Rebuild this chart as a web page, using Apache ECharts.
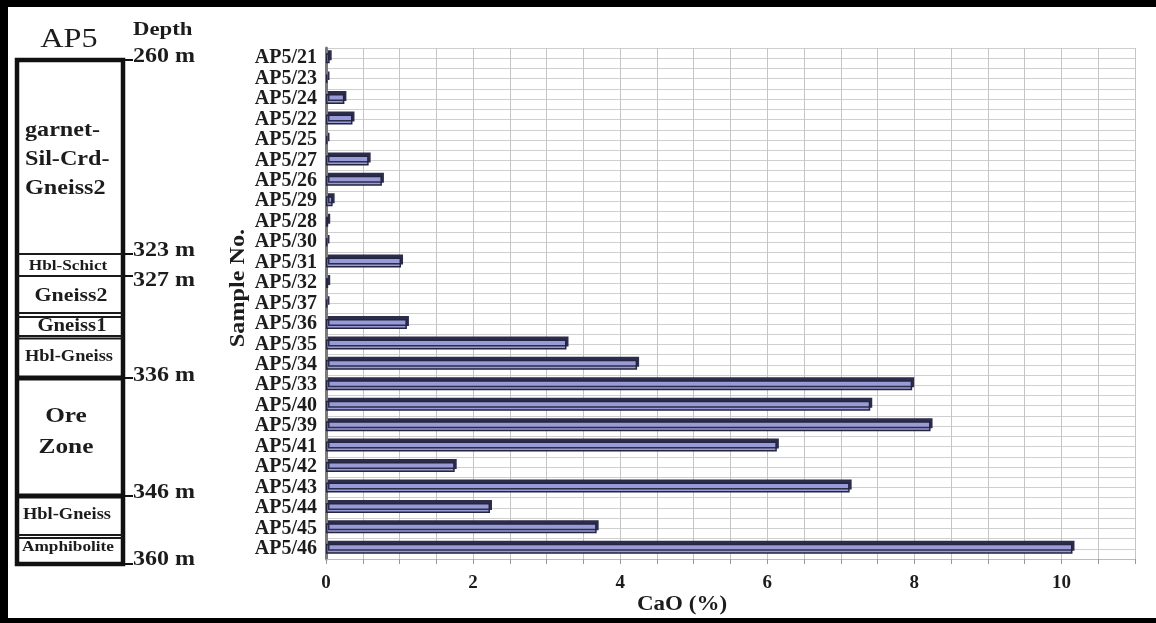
<!DOCTYPE html>
<html>
<head>
<meta charset="utf-8">
<script src="https://cdn.jsdelivr.net/npm/echarts@6/dist/echarts.min.js"></script>
<style>
  html, body { margin: 0; padding: 0; background: #fff; }
  #chart { width: 1156px; height: 623px; }
</style>
</head>
<body>
<div id="chart"></div>
<script>
// Borehole AP5: CaO content of samples, listed top (shallow) to bottom (deep)
const samples = ['AP5/21','AP5/23','AP5/24','AP5/22','AP5/25','AP5/27','AP5/26','AP5/29','AP5/28','AP5/30',
                 'AP5/31','AP5/32','AP5/37','AP5/36','AP5/35','AP5/34','AP5/33','AP5/40','AP5/39','AP5/41',
                 'AP5/42','AP5/43','AP5/44','AP5/45','AP5/46'];
const caoPercent = [0.05,0.02,0.25,0.36,0.02,0.58,0.76,0.09,0.03,0.02,
                    1.02,0.03,0.02,1.10,3.27,4.23,7.97,7.40,8.22,6.13,
                    1.75,7.12,2.23,3.68,10.15];
const xTicks = [0, 2, 4, 6, 8, 10];

// Lithological column beside the chart
const depthMarks = [
  { label: '260 m', lineY: 60,  textY: 57 },
  { label: '323 m', lineY: 254, textY: 251 },
  { label: '327 m', lineY: 276, textY: 281 },
  { label: '336 m', lineY: 378, textY: 376 },
  { label: '346 m', lineY: 496, textY: 493 },
  { label: '360 m', lineY: 564, textY: 560 }
];
const units = [
  { lines: ['garnet-','Sil-Crd-','Gneiss2'], x: 25, ys: [131,160,189], size: 21, align: 'left' },
  { lines: ['Hbl-Schict'], x: 68, ys: [266], size: 15, align: 'center' },
  { lines: ['Gneiss2'], x: 71, ys: [296], size: 19, align: 'center' },
  { lines: ['Gneiss1'], x: 72, ys: [326], size: 18, align: 'center' },
  { lines: ['Hbl-Gneiss'], x: 69, ys: [357], size: 16, align: 'center' },
  { lines: ['Ore','Zone'], x: 66, ys: [416,447], size: 22, align: 'center' },
  { lines: ['Hbl-Gneiss'], x: 67, ys: [515], size: 16, align: 'center' },
  { lines: ['Amphibolite'], x: 68, ys: [547], size: 15, align: 'center' }
];
const thinBoundaries = [254, 276, 313, 317, 336, 338.5, 535, 538];
const thickBoundaries = [378, 496];

const FONT = "'Liberation Serif', 'Times New Roman', serif";
const INK = '#1c1c1c';

const graphics = [];
// page frame
graphics.push({ type: 'rect', shape: { x: 0, y: 0, width: 1156, height: 7 }, style: { fill: '#000' } });
graphics.push({ type: 'rect', shape: { x: 0, y: 0, width: 8, height: 623 }, style: { fill: '#000' } });
graphics.push({ type: 'rect', shape: { x: 0, y: 618, width: 1156, height: 5 }, style: { fill: '#000' } });

// column outline
const colL = 17, colR = 123, colT = 60, colB = 564;
graphics.push({ type: 'rect', shape: { x: colL, y: colT, width: colR - colL, height: colB - colT },
  style: { fill: 'none', stroke: '#111', lineWidth: 4.5 } });
thinBoundaries.forEach(y => graphics.push({ type: 'line', shape: { x1: colL, y1: y, x2: colR, y2: y },
  style: { stroke: '#1a1a1a', lineWidth: 2 } }));
thickBoundaries.forEach(y => graphics.push({ type: 'line', shape: { x1: colL, y1: y, x2: colR, y2: y },
  style: { stroke: '#111', lineWidth: 5 } }));

// depth ticks and labels
depthMarks.forEach(d => {
  graphics.push({ type: 'line', shape: { x1: colR, y1: d.lineY, x2: 133, y2: d.lineY },
    style: { stroke: '#111', lineWidth: 2 } });
  graphics.push({ type: 'text', x: 133, y: d.textY, scaleX: 1.2,
    style: { text: d.label, fontFamily: FONT, fontWeight: 'bold', fontSize: 20, fill: INK,
      align: 'left', verticalAlign: 'middle' } });
});

// unit names
units.forEach(u => {
  u.lines.forEach((t, i) => graphics.push({ type: 'text', x: u.x, y: u.ys[i], scaleX: 1.15,
    style: { text: t, fontFamily: FONT, fontWeight: 'bold', fontSize: u.size, fill: INK,
      align: u.align, verticalAlign: 'middle' } }));
});

// column headers
graphics.push({ type: 'text', x: 69, y: 40, scaleX: 1.15,
  style: { text: 'AP5', fontFamily: FONT, fontSize: 28, fill: INK, align: 'center', verticalAlign: 'middle' } });
graphics.push({ type: 'text', x: 133, y: 30, scaleX: 1.2,
  style: { text: 'Depth', fontFamily: FONT, fontWeight: 'bold', fontSize: 19, fill: INK, align: 'left', verticalAlign: 'middle' } });

// axis titles
graphics.push({ type: 'text', x: 238, y: 288, rotation: Math.PI / 2, scaleX: 1.1,
  style: { text: 'Sample No.', fontFamily: FONT, fontWeight: 'bold', fontSize: 22, fill: INK, align: 'center', verticalAlign: 'middle' } });
graphics.push({ type: 'text', x: 682, y: 605, scaleX: 1.15,
  style: { text: 'CaO (%)', fontFamily: FONT, fontWeight: 'bold', fontSize: 20, fill: INK, align: 'center', verticalAlign: 'middle' } });

const chart = echarts.init(document.getElementById('chart'), null, { renderer: 'canvas' });
chart.setOption({
  animation: false,
  backgroundColor: '#fff',
  grid: { left: 326, right: 21, top: 48, bottom: 64, containLabel: false },
  xAxis: {
    type: 'value', min: 0, max: 11, interval: 0.5,
    axisLine: { show: true, lineStyle: { color: '#bdbdbd', width: 1 } },
    axisTick: { show: true, interval: 0, length: 5, lineStyle: { color: '#999' } },
    splitLine: { show: true, lineStyle: { color: '#c4c4c4', width: 1 } },
    axisLabel: {
      margin: 15, fontFamily: FONT, fontWeight: 'bold', fontSize: 19, color: INK,
      formatter: v => (xTicks.indexOf(v) >= 0 ? String(v) : '')
    }
  },
  yAxis: [
    {
      type: 'category', data: samples, inverse: true,
      axisLine: { show: true, lineStyle: { color: '#7a7a7a', width: 3 } },
      axisTick: { show: false },
      splitLine: { show: false },
      axisLabel: { interval: 0, margin: 9, fontFamily: FONT, fontWeight: 'bold', fontSize: 20, color: INK }
    },
    {
      // fine horizontal rules, two per sample row
      type: 'value', min: 0, max: 50, interval: 1, position: 'right',
      axisLine: { show: false }, axisTick: { show: false }, axisLabel: { show: false },
      splitLine: { show: true, lineStyle: { color: '#cfcfcf', width: 1 } }
    }
  ],
  series: [{
    type: 'bar',
    yAxisIndex: 0,
    data: caoPercent,
    barWidth: 10,
    itemStyle: {
      color: '#989bd6',
      borderColor: '#25253f',
      borderWidth: 1.5,
      shadowColor: '#2c2c4c',
      shadowOffsetX: 2,
      shadowOffsetY: -3,
      shadowBlur: 0
    }
  }]
});
chart.setOption({ graphic: graphics });
</script>
</body>
</html>
